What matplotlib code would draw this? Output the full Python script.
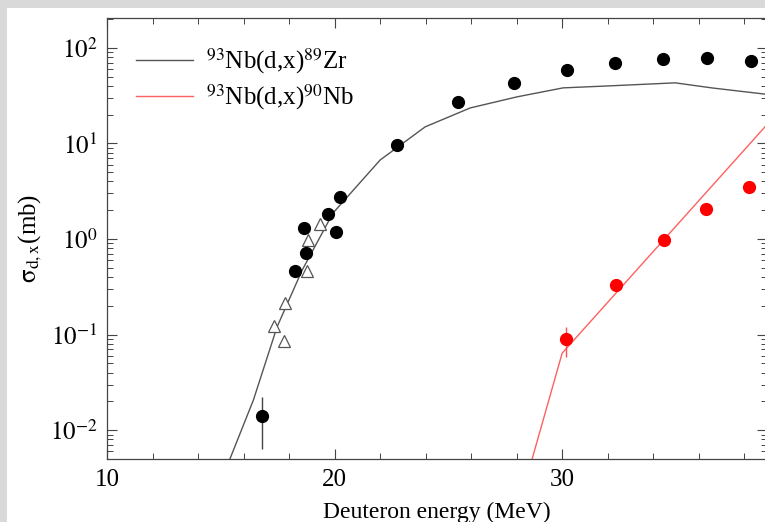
import matplotlib
matplotlib.use("Agg")
import matplotlib.pyplot as plt
from matplotlib.patches import Rectangle

plt.rcParams['font.family'] = ['Liberation Serif', 'DejaVu Serif']
plt.rcParams['mathtext.fontset'] = 'stix'

# model curves
zr_model_x = [15.0, 15.4, 16.43, 17.47, 18.57, 19.93, 22.0, 23.98, 25.96, 28.02, 30.04, 32.1, 34.97, 36.6, 38.8, 40.0]
zr_model_y = [0.0029, 0.005, 0.0206, 0.12, 0.47, 1.87, 6.7, 14.9, 23.5, 30.7, 38.1, 40.0, 43.0, 38.0, 33.0, 31.0]
nb_model_x = [28.0, 30.0, 40.0]
nb_model_y = [0.00135, 0.064, 29.0]

# 89Zr data (this work, filled circles)
zr_x = [16.81, 18.26, 18.66, 18.75, 19.71, 20.07, 20.24, 22.75, 25.43, 27.89, 30.22, 32.33, 34.44, 36.37, 38.31]
zr_y = [0.014, 0.46, 1.30, 0.71, 1.83, 1.18, 2.75, 9.6, 27.0, 43.0, 59.0, 70.0, 77.0, 78.5, 73.0]
zr_err_lo = [0.0077, 0, 0, 0, 0, 0, 0, 0, 0, 0, 0, 0, 0, 0, 0]
zr_err_hi = [0.008, 0, 0, 0, 0, 0, 0, 0, 0, 0, 0, 0, 0, 0, 0]

# 89Zr literature data (open triangles)
lit_x = [17.34, 17.78, 17.83, 18.79, 18.84, 19.36]
lit_y = [0.123, 0.0855, 0.214, 0.46, 0.97, 1.43]

# 90Nb data
nb_x = [30.18, 32.37, 34.48, 36.33, 38.22]
nb_y = [0.090, 0.33, 0.97, 2.06, 3.5]
nb_err_lo = [0.032, 0.03, 0, 0, 0]
nb_err_hi = [0.03, 0.04, 0, 0, 0]

fig = plt.figure(figsize=(7.65, 5.22), dpi=100, facecolor='#d9d9d9')
# white page area
fig.patches.append(Rectangle((7 / 765, 0), 1, 1 - 8 / 522, transform=fig.transFigure,
                             facecolor='white', edgecolor='none', zorder=-1))

ax = fig.add_axes([107 / 765, 1 - 459 / 522, (767 - 107) / 765, (459 - 18) / 522])
ax.set_facecolor('white')

ax.plot(zr_model_x, zr_model_y, color='#555555', lw=1.0, label=r'$^{93}$Nb(d,x)$^{89}$Zr')
ax.plot(nb_model_x, nb_model_y, color='#ff6060', lw=1.0, label=r'$^{93}$Nb(d,x)$^{90}$Nb')

ax.errorbar(zr_x, zr_y, yerr=[zr_err_lo, zr_err_hi], fmt='o', color='black', ms=8.5,
            ecolor='#444444', elinewidth=1.0, capsize=0, zorder=4)
ax.plot(lit_x, lit_y, '^', ms=8.5, mfc='white', mec='#555555', mew=0.9, zorder=3)
ax.errorbar(nb_x, nb_y, yerr=[nb_err_lo, nb_err_hi], fmt='o', color='red', ms=8.5,
            ecolor='#ff5050', elinewidth=1.0, capsize=0, zorder=4)

ax.set_yscale('log')
ax.set_xlim(10, 39.0)
ax.set_ylim(0.005, 205)
ax.set_xticks([10, 20, 30])
ax.set_xticks(range(12, 40, 2), minor=True)
ax.set_xticklabels(['10', '20', '30'])
ax.set_yticks([0.01, 0.1, 1, 10, 100])
ax.set_yticklabels([r'$10^{-2}$', r'$10^{-1}$', r'$10^{0}$', r'$10^{1}$', r'$10^{2}$'])

ax.tick_params(which='both', direction='in', top=True, right=True, labelsize=18,
               color='#444444')
ax.tick_params(which='major', length=7, width=0.8, pad=7)
ax.tick_params(which='minor', length=4, width=0.7)
for s in ax.spines.values():
    s.set_color('#444444')
    s.set_linewidth(0.9)

ax.set_xlabel('Deuteron energy (MeV)', fontsize=17, labelpad=8)
ax.set_ylabel(r'$\mathrm{\sigma_{d,x}}$(mb)', fontsize=18, labelpad=4)

leg = ax.legend(loc='upper left', frameon=False, fontsize=18, handlelength=2.3,
                handletextpad=0.5, labelspacing=0.25, borderaxespad=0.75)

fig.savefig('out.png', dpi=100, facecolor=fig.get_facecolor())
